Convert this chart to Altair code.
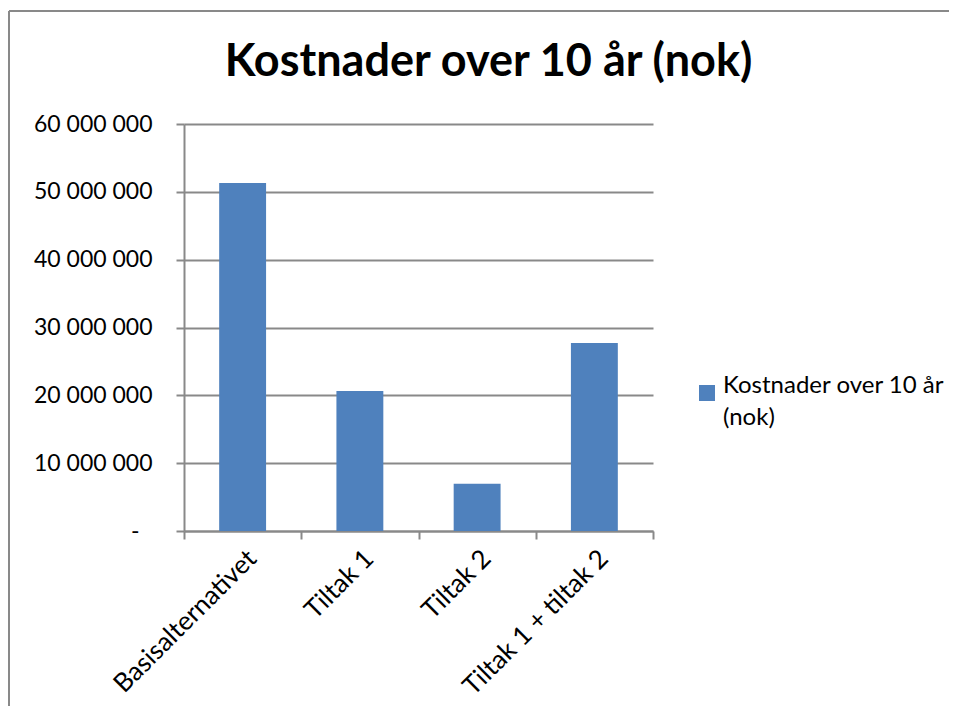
import altair as alt
import pandas as pd

categories = ["Basisalternativet", "Tiltak 1", "Tiltak 2", "Tiltak 1 + tiltak 2"]
values = [51300000, 20650000, 6950000, 27700000]
series_name = "Kostnader over 10 år (nok)"
y_ticks = [0, 10000000, 20000000, 30000000, 40000000, 50000000, 60000000]

df = pd.DataFrame({"kategori": categories, "verdi": values, "serie": [series_name] * len(categories)})

FONT = "Lato"
GRAY = "#898989"

bars = alt.Chart(df).mark_bar(width=alt.RelativeBandSize(0.4), color="#4F81BD").encode(
    x=alt.X("kategori:N", sort=categories, title=None,
            scale=alt.Scale(paddingInner=0, paddingOuter=0),
            axis=alt.Axis(tickBand="extent", labelAngle=-45, labelFontSize=26, labelFont=FONT,
                          labelColor="black", labelLimit=400, tickSize=8, tickColor=GRAY, tickWidth=2,
                          domainColor=GRAY, domainWidth=2, labelPadding=6, grid=False)),
    y=alt.Y("verdi:Q", title=None,
            scale=alt.Scale(domain=[0, 60000000], nice=False),
            axis=alt.Axis(values=y_ticks, labelFontSize=23, labelFont=FONT, labelColor="black",
                          labelExpr="datum.value == 0 ? '-' : replace(format(datum.value, ','), /,/g, ' ')",
                          tickSize=8, tickColor=GRAY, tickWidth=2, domainColor=GRAY, domainWidth=2,
                          grid=True, gridColor=GRAY, gridWidth=2,
                          labelPadding={"condition": {"test": "datum.value == 0", "value": 37}, "value": 24})),
    color=alt.Color("serie:N", scale=alt.Scale(range=["#4F81BD"]),
                    legend=alt.Legend(title=None, orient="none", legendX=511, legendY=257,
                                      symbolType="square", symbolSize=256, symbolStrokeWidth=0,
                                      labelFontSize=24, labelFont=FONT, labelColor="black",
                                      labelLimit=400,
                                      labelExpr="[slice(datum.label, 0, 20), slice(datum.label, 21)]",
                                      labelBaseline="alphabetic", labelOffset=4)),
)

border_v = alt.Chart(df).mark_rule(color=GRAY, strokeWidth=2, clip=False).encode(
    x=alt.value(-175), y=alt.value(-113), y2=alt.value(600))
border_h = alt.Chart(df).mark_rule(color=GRAY, strokeWidth=2, clip=False).encode(
    x=alt.value(-175), x2=alt.value(800), y=alt.value(-113))

chart = alt.layer(border_v, border_h, bars).properties(
    width=469, height=407,
    padding={"left": 176, "top": 116, "right": 296, "bottom": 175},
    autosize=alt.AutoSizeParams(type="none"),
    title=alt.TitleParams(series_name, font=FONT, fontSize=45, fontWeight="bold", color="black",
                          anchor="middle", dx=70, baseline="alphabetic", offset=-111),
).configure(style={"guide-label": {"lineHeight": 32}}).configure_view(stroke=None)

chart.save("out.html", embed_options={"renderer": "svg", "actions": False})
